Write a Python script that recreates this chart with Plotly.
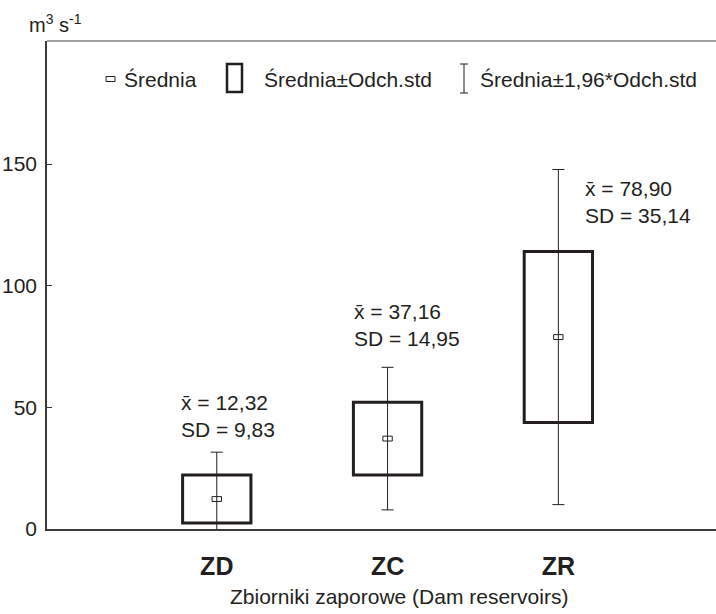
import plotly.graph_objects as go

# Reservoir groups and their flow statistics (m3/s)
reservoirs = ["ZD", "ZC", "ZR"]
means = [12.32, 37.16, 78.90]
std_devs = [9.83, 14.95, 35.14]
z_factor = 1.96

mean_labels = ["x\u0304 = 12,32", "x\u0304 = 37,16", "x\u0304 = 78,90"]
sd_labels = ["SD = 9,83", "SD = 14,95", "SD = 35,14"]

y_ticks = [0, 50, 100, 150]

FONT = "Liberation Sans, Arial, Helvetica, sans-serif"
INK = "#231f20"

# plot-area geometry in pixels
W_FIG, H_FIG = 716, 614
L, R, T, B = 47, 716, 41, 529


def px_x(x):
    return (x - L) / (R - L)


def px_y(y):
    return (B - y) / (B - T)


xs = list(range(len(reservoirs)))
box_low = [m - s for m, s in zip(means, std_devs)]
box_height = [2 * s for s in std_devs]
whisker = [z_factor * s for s in std_devs]

MEAN_HALF = 1.0  # half-height of the mean marker, in data units

fig = go.Figure()

# mean ± SD boxes
fig.add_trace(go.Bar(
    x=xs, y=box_height, base=box_low, width=0.4,
    marker=dict(color="rgba(0,0,0,0)", line=dict(color=INK, width=3)),
    showlegend=False, hoverinfo="skip",
))

# mean markers (small open rectangles)
fig.add_trace(go.Bar(
    x=xs, y=[2 * MEAN_HALF] * len(means), base=[m - MEAN_HALF for m in means],
    width=0.055,
    marker=dict(color="white", line=dict(color=INK, width=1)),
    showlegend=False, hoverinfo="skip",
))

# mean ± 1.96*SD whiskers
fig.add_trace(go.Scatter(
    x=xs, y=means, mode="markers",
    marker=dict(size=1, color="rgba(0,0,0,0)"),
    error_y=dict(type="data", array=whisker, symmetric=True,
                 width=6, thickness=1, color=INK),
    showlegend=False, hoverinfo="skip",
))

annotations = []
# statistics labels next to each box
label_dx = [-0.219, -0.206, 0.142]
label_y = [46.6, 83.7, 134.6]
for i in xs:
    annotations.append(dict(
        x=xs[i] + label_dx[i], y=label_y[i], xref="x", yref="y",
        text=mean_labels[i] + "<br>" + sd_labels[i],
        showarrow=False, xanchor="left", yanchor="middle", align="left",
        font=dict(family=FONT, size=21, color=INK),
    ))

# unit label
annotations.append(dict(
    x=px_x(27), y=px_y(24), xref="paper", yref="paper",
    text="m<sup>3</sup> s<sup>-1</sup>", showarrow=False,
    xanchor="left", yanchor="middle",
    font=dict(family=FONT, size=20, color=INK),
))

# x-axis title
annotations.append(dict(
    x=px_x(399), y=px_y(596), xref="paper", yref="paper",
    text="Zbiorniki zaporowe (Dam reservoirs)", showarrow=False,
    xanchor="center", yanchor="middle",
    font=dict(family=FONT, size=21, color=INK),
))

# legend
leg_y = 79
legend_texts = [("Średnia", 122), ("Średnia±Odch.std", 262), ("Średnia±1,96*Odch.std", 478)]
for txt, x0 in legend_texts:
    annotations.append(dict(
        x=px_x(x0), y=px_y(leg_y), xref="paper", yref="paper",
        text=txt, showarrow=False, xanchor="left", yanchor="middle",
        font=dict(family=FONT, size=21, color=INK),
    ))

shapes = [
    # top frame line
    dict(type="line", xref="paper", yref="paper", x0=0, x1=1, y0=1, y1=1,
         line=dict(color="#808080", width=1.5)),
    # legend: mean symbol
    dict(type="rect", xref="paper", yref="paper",
         x0=px_x(106), x1=px_x(115), y0=px_y(leg_y - 2.5), y1=px_y(leg_y + 2.5),
         line=dict(color=INK, width=1), fillcolor="white"),
    # legend: box symbol
    dict(type="rect", xref="paper", yref="paper",
         x0=px_x(227), x1=px_x(242), y0=px_y(64), y1=px_y(92),
         line=dict(color=INK, width=2.5), fillcolor="rgba(0,0,0,0)"),
    # legend: whisker symbol
    dict(type="line", xref="paper", yref="paper",
         x0=px_x(464), x1=px_x(464), y0=px_y(64), y1=px_y(93),
         line=dict(color=INK, width=1)),
    dict(type="line", xref="paper", yref="paper",
         x0=px_x(460), x1=px_x(468), y0=px_y(64), y1=px_y(64),
         line=dict(color=INK, width=1)),
    dict(type="line", xref="paper", yref="paper",
         x0=px_x(460), x1=px_x(468), y0=px_y(93), y1=px_y(93),
         line=dict(color=INK, width=1)),
]

fig.update_layout(
    width=W_FIG, height=H_FIG,
    margin=dict(l=L, r=W_FIG - R, t=T, b=H_FIG - B, pad=0),
    paper_bgcolor="white", plot_bgcolor="white",
    barmode="overlay", showlegend=False,
    font=dict(family=FONT, color=INK),
    annotations=annotations, shapes=shapes,
    xaxis=dict(
        range=[-0.994, 2.923], tickvals=xs,
        ticktext=["<b>%s</b>" % r for r in reservoirs],
        tickfont=dict(family=FONT, size=25, color=INK),
        showgrid=False, zeroline=False, ticks="",
        showline=True, linecolor="#3a3a3a", linewidth=1.5,
        ticklabelstandoff=14,
    ),
    yaxis=dict(
        range=[0, 200.6], tickvals=y_ticks,
        ticks="inside", ticklen=5, tickcolor="#3a3a3a",
        tickfont=dict(family=FONT, size=21, color=INK),
        showgrid=False, zeroline=False,
        showline=True, linecolor="#3a3a3a", linewidth=1.5,
        ticklabelstandoff=4,
    ),
)

fig.write_html("out.html")
